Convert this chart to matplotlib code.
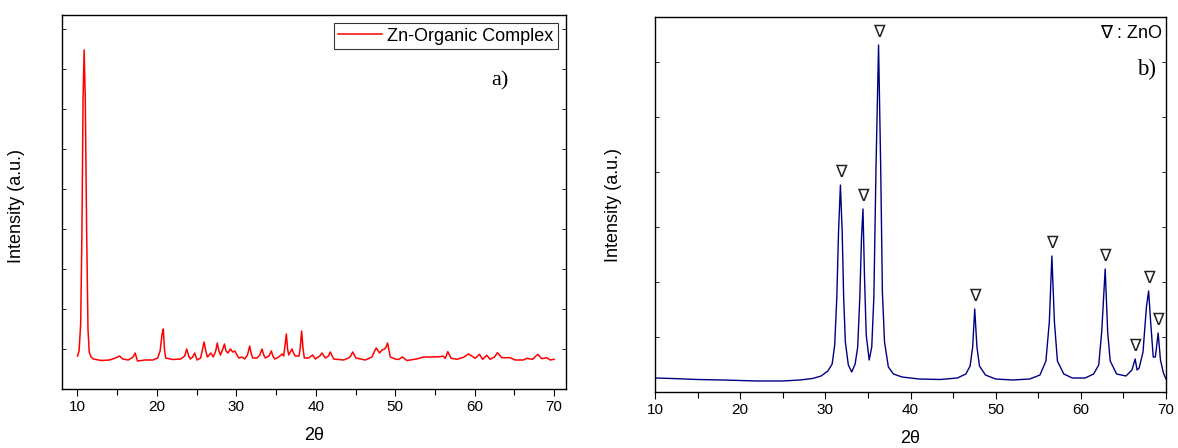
import matplotlib
matplotlib.use("Agg")
import matplotlib.pyplot as plt
from matplotlib.ticker import MultipleLocator, NullFormatter

# ---------------- data ----------------
# (a) Zn-organic complex pattern: 2theta and intensity (a.u.)
complex_2theta = [10.0, 10.2, 10.4, 10.55, 10.7, 10.84, 10.98, 11.15, 11.32, 11.48, 11.7, 12.0,
                  13.0, 14.0, 14.8, 15.3, 15.7, 16.4, 17.0, 17.26, 17.55, 18.5, 19.5, 20.1,
                  20.4, 20.5, 20.65, 20.8, 20.95, 21.1, 22.0, 23.0, 23.5, 23.75, 24.0, 24.2,
                  24.5, 24.75, 25.05, 25.5, 25.75, 25.94, 26.15, 26.36, 26.78, 27.1, 27.4, 27.6,
                  27.8, 28.0, 28.3, 28.5, 28.7, 28.95, 29.25, 29.54, 29.8, 30.3, 30.7, 31.05,
                  31.4, 31.68, 31.85, 32.06, 32.6, 32.95, 33.23, 33.45, 33.65, 34.1, 34.4, 34.6,
                  34.83, 35.33, 35.75, 35.96, 36.15, 36.29, 36.45, 36.59, 37.0, 37.2, 37.42, 37.9,
                  38.05, 38.22, 38.4, 38.56, 39.1, 39.6, 39.94, 40.5, 40.78, 41.2, 41.6, 41.83,
                  42.25, 43.5, 44.13, 44.4, 44.64, 45.06, 46.23, 47.07, 47.35, 47.61, 48.03, 48.33,
                  48.66, 48.85, 49.04, 49.38, 50.0, 50.4, 50.9, 51.47, 52.7, 53.56, 54.6, 55.66,
                  56.0, 56.3, 56.62, 57.04, 57.76, 58.6, 59.22, 59.64, 60.06, 60.6, 61.0, 61.53,
                  61.95, 62.5, 62.87, 63.4, 64.46, 65.1, 66.14, 66.56, 67.3, 67.94, 68.45, 69.08,
                  69.5, 70.0]
complex_intensity = [33, 38, 65, 150, 290, 339, 290, 160, 60, 37, 32, 30,
                     28.5, 29, 31, 33, 30, 29, 32, 36, 28, 29, 29, 31,
                     38, 45, 55, 60, 40, 31, 29.5, 30, 33, 40, 33, 30,
                     32, 36, 29, 31, 40, 47, 38, 32, 36, 32, 38, 46,
                     38, 34, 40, 45, 38, 36, 40, 37, 38, 31, 32, 30,
                     34, 43, 36, 31, 31, 34, 40, 34, 31, 33, 38, 33,
                     30, 32, 35, 33, 45, 55, 40, 34, 40, 36, 33, 33,
                     42, 58, 40, 31, 31, 34, 30, 33, 36, 31, 33, 37,
                     30, 29, 31, 33, 37, 31, 29, 32, 37, 41, 36, 39,
                     40, 42, 46, 32, 30, 29.5, 32, 28.5, 30, 32, 32, 32.3,
                     33, 30.7, 37.3, 30.7, 29.7, 31.7, 35, 33, 30.7, 34.7, 29.7, 33.7,
                     29.7, 32, 36.3, 31.3, 31.3, 29, 29, 30.7, 29.7, 34.7, 30.3, 31.3,
                     29, 29.7]

# (b) ZnO pattern
zno_2theta = [10.0, 12.0, 15.0, 18.0, 20.0, 22.0, 25.0, 27.0, 28.5, 29.5, 30.3, 30.8,
              31.1, 31.35, 31.55, 31.77, 31.98, 32.15, 32.35, 32.7, 33.1, 33.5, 33.8, 34.05,
              34.25, 34.42, 34.6, 34.8, 35.15, 35.45, 35.7, 35.95, 36.25, 36.5, 36.7, 36.95,
              37.4, 38.0, 39.0, 41.0, 43.5, 45.5, 46.5, 47.0, 47.3, 47.54, 47.8, 48.1,
              48.8, 50.0, 52.0, 54.0, 55.2, 55.9, 56.3, 56.6, 56.9, 57.25, 58.0, 59.0,
              60.5, 61.5, 62.1, 62.45, 62.86, 63.15, 63.45, 64.2, 65.3, 66.0, 66.38, 66.6,
              66.85, 67.3, 67.7, 67.96, 68.2, 68.5, 68.75, 69.08, 69.35, 69.7, 70.0]
zno_intensity = [14, 13.5, 12.5, 12, 11.5, 11, 11, 12, 13.5, 16, 21, 28,
                 47, 95, 160, 207, 160, 95, 50, 27, 20, 28, 45, 95,
                 155, 183, 115, 57, 32, 45, 95, 225, 347, 225, 100, 50,
                 25, 18, 15, 13, 12.5, 14, 18, 26, 45, 83, 45, 26,
                 17, 13, 12, 13, 17, 31, 70, 136, 70, 31, 18, 14,
                 14, 18, 27, 60, 123, 60, 31, 18, 16, 22, 33, 22,
                 24, 40, 85, 101, 70, 35, 35, 59, 32, 19, 13]

# ZnO reflections marked with a triangle
zno_peak_2theta = [31.77, 34.42, 36.25, 47.54, 56.6, 62.86, 66.38, 67.96, 69.08]
zno_peak_intensity = [207, 183, 347, 83, 136, 123, 33, 101, 59]

x_ticks = [10, 20, 30, 40, 50, 60, 70]

# ---------------- figure ----------------
plt.rcParams['font.family'] = ['Liberation Sans', 'DejaVu Sans']
fig = plt.figure(figsize=(11.78, 4.48), dpi=100)

axA = fig.add_axes([62 / 1178, (448 - 389) / 448, 504 / 1178, 374 / 448])
axB = fig.add_axes([655 / 1178, (448 - 392) / 448, 511 / 1178, 375 / 448])

axA.plot(complex_2theta, complex_intensity, color='#ff0000', lw=1.1,
         label='Zn-Organic Complex')
axA.set_xlim(8.05, 71.5)
axA.set_ylim(0, 374)

axB.plot(zno_2theta, zno_intensity, color='#000080', lw=1.0)
axB.set_xlim(10, 70)
axB.set_ylim(0, 375)

for px, py in zip(zno_peak_2theta, zno_peak_intensity):
    axB.text(px, py + 4, '∇', ha='center', va='bottom', fontsize=12.5,
             color='#222222', family=['DejaVu Sans'])

for ax, ystep in ((axA, 40), (axB, 55)):
    ax.set_xticks(x_ticks)
    ax.xaxis.set_minor_locator(MultipleLocator(5))
    ax.tick_params(axis='x', which='major', direction='out', length=5, width=0.8,
                   labelsize=11, pad=3)
    ax.tick_params(axis='x', which='minor', direction='out', length=4, width=0.8)
    ax.yaxis.set_major_locator(MultipleLocator(ystep))
    ax.yaxis.set_major_formatter(NullFormatter())
    ax.tick_params(axis='y', which='major', direction='in', length=3, width=0.6,
                   left=True, right=True)
    for s in ax.spines.values():
        s.set_linewidth(1.0)
    ax.set_ylabel('Intensity (a.u.)', fontsize=13)
    ax.set_xlabel('2θ', fontsize=13)

axA.yaxis.set_label_coords(-0.073, 0.49)
axA.xaxis.set_label_coords(0.5, -0.102)
axB.yaxis.set_label_coords(-0.065, 0.5)
axB.xaxis.set_label_coords(0.5, -0.102)

leg = axA.legend(loc='upper right', fontsize=13, frameon=True, fancybox=False,
                 borderpad=0.25, handlelength=2.4, handletextpad=0.3,
                 borderaxespad=0.45)
leg.get_frame().set_edgecolor('black')
leg.get_frame().set_linewidth(0.8)

axA.text(0.868, 0.825, 'a)', transform=axA.transAxes, ha='center', va='center',
         fontsize=16, family=['Liberation Serif'])
axB.text(0.992, 0.955, '∇ : ZnO', transform=axB.transAxes, ha='right', va='center',
         fontsize=13, family=['Liberation Sans', 'DejaVu Sans'])
axB.text(0.961, 0.86, 'b)', transform=axB.transAxes, ha='center', va='center',
         fontsize=16.5, family=['Liberation Serif'])

fig.savefig('out.png', dpi=100)
